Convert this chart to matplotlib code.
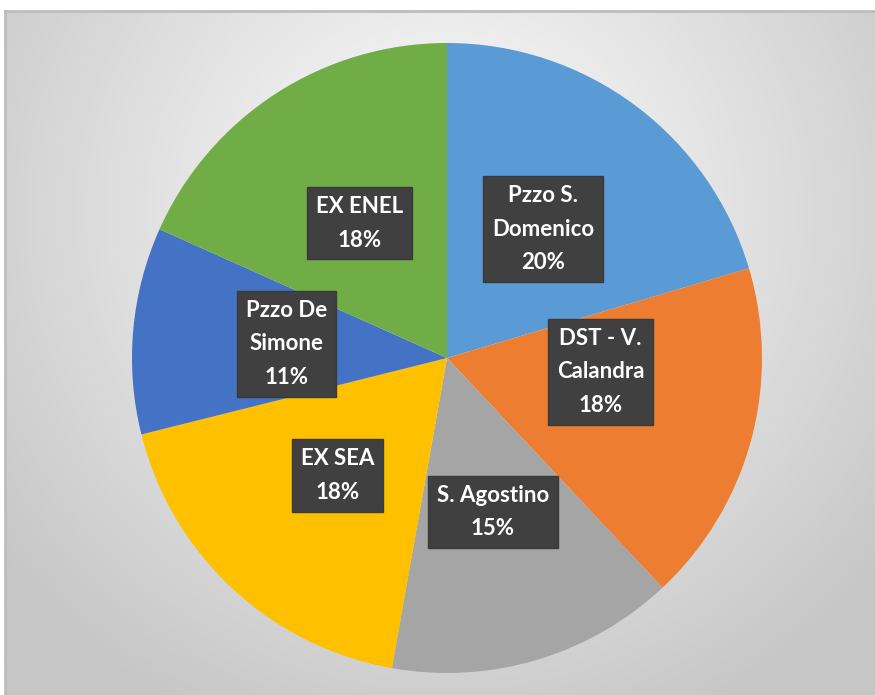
import matplotlib
matplotlib.use("Agg")
import matplotlib.pyplot as plt
import numpy as np

# data
labels = ["Pzzo S.\nDomenico", "DST - V.\nCalandra", "S. Agostino", "EX SEA", "Pzzo De\nSimone", "EX ENEL"]
values = [20.4, 17.6, 14.8, 18.3, 10.6, 18.3]
colors = ["#5B9BD5", "#ED7D31", "#A5A5A5", "#FFC000", "#4472C4", "#70AD47"]
pct_labels = ["20%", "18%", "15%", "18%", "11%", "18%"]

W, H = 875, 695
fig = plt.figure(figsize=(W / 100, H / 100), dpi=100)
fig.patch.set_facecolor("white")

# chart area background with radial gradient
bg = fig.add_axes([5 / W, 0, (W - 5) / W, (H - 11) / H])
gx, gy = np.meshgrid(np.linspace(0, W - 5, 400), np.linspace(0, H - 11, 320))
d = np.sqrt(((gx - 440) / 620) ** 2 + ((gy - 200) / 620) ** 2)
shade = np.clip(255 - 62 * d, 198, 253) / 255.0
bg.imshow(np.dstack([shade, shade, shade]), extent=[0, 1, 0, 1], aspect="auto", origin="upper")
bg.set_xticks([])
bg.set_yticks([])
for side, sp in bg.spines.items():
    sp.set_visible(side in ("top", "left"))
    sp.set_color("#bdbdbd")
    sp.set_linewidth(2)

# pie
ax = fig.add_axes([132 / W, 22 / H, 630 / W, 630 / H])
ax.set_facecolor("none")
wedges, texts = ax.pie(values, colors=colors, startangle=90, counterclock=False,
                       labels=[l + "\n" + p for l, p in zip(labels, pct_labels)],
                       labeldistance=0.51,
                       wedgeprops=dict(linewidth=0),
                       textprops=dict(color="white", fontsize=16, fontweight="bold",
                                      family=["Lato", "DejaVu Sans"], linespacing=1.75,
                                      ha="center", va="center"))

# Excel moved the orange label a bit up
w = wedges[1]
ang = np.deg2rad((w.theta1 + w.theta2) / 2 + 10)
texts[1].set_position((0.49 * np.cos(ang), 0.49 * np.sin(ang)))

for t in texts:
    t.set_ha("center")
    t.set_va("center")
    t.set_multialignment("center")
    t.set_bbox(dict(boxstyle="square,pad=0.4", facecolor="#404040", edgecolor="#3a3a3a", linewidth=1))

ax.set_xlim(-1, 1)
ax.set_ylim(-1, 1)

fig.savefig("out.png", dpi=100)
